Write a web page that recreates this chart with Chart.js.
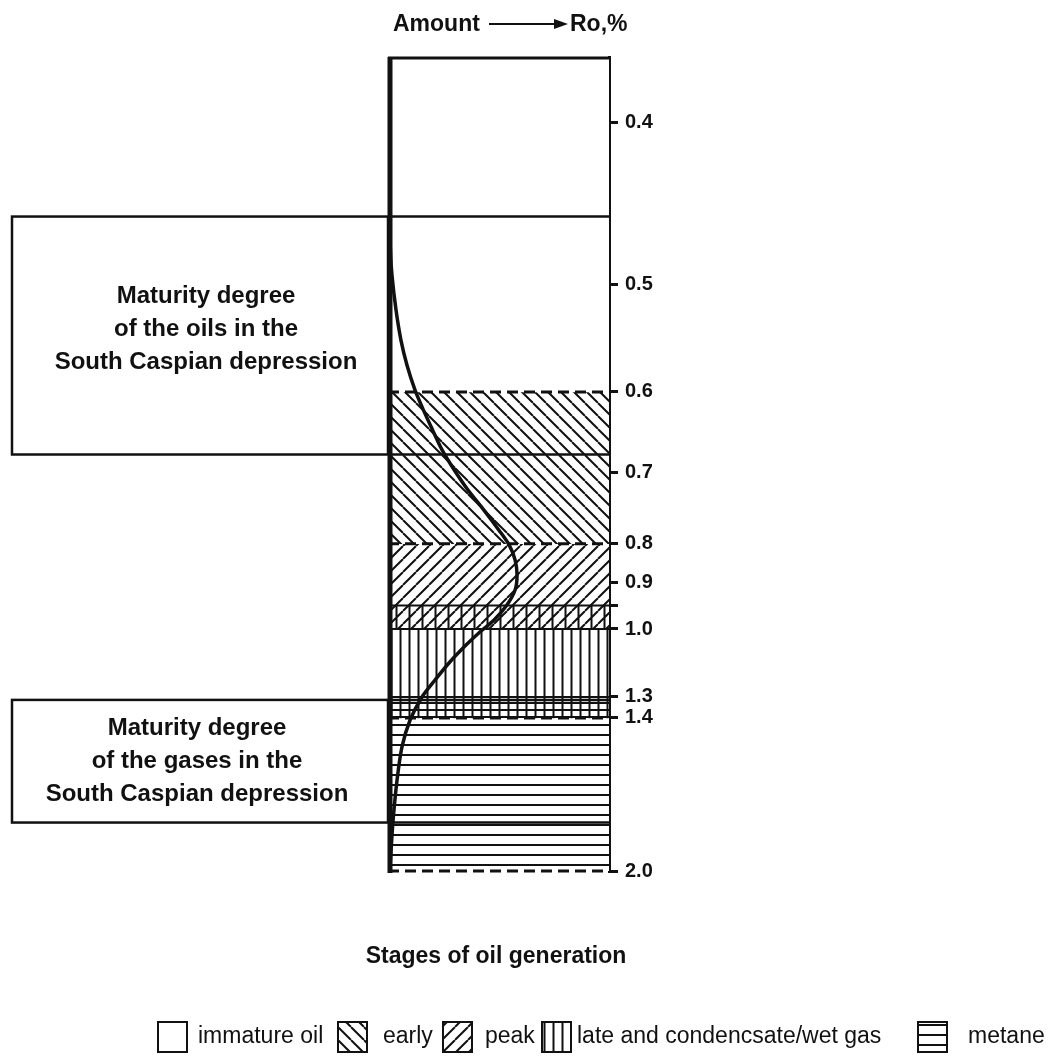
<!DOCTYPE html>
<html>
<head>
<meta charset="utf-8">
<script src="https://cdn.jsdelivr.net/npm/chart.js@4.4.1/dist/chart.umd.min.js"></script>
<style>
  body { margin: 0; background: #fff; }
  #wrap { width: 1054px; height: 1061px; position: relative; }
</style>
</head>
<body>
<div id="wrap"><canvas id="stages"></canvas></div>
<script>
var INK = "#111";
var FONT = "'Liberation Sans', Arial, sans-serif";

// Ro,% axis
let RO_TICKS = [0.4, 0.5, 0.6, 0.7, 0.8, 0.9, 0.95, 1.0, 1.3, 1.4, 2.0];
let RO_LABELS = ["0.4", "0.5", "0.6", "0.7", "0.8", "0.9", "", "1.0", "1.3", "1.4", "2.0"];
let RO_MIN = 0.36;
let RO_MAX = 2.0;

// stages of oil generation (Ro bands)
let STAGES = ["immature oil", "early", "peak", "late and condencsate/wet gas", "metane"];
let STAGE_KIND = ["immature", "early", "peak", "late", "metane"];
let BAND_KIND = ["immature", "early", "peak", "peak-late", "late", "late-metane", "metane"];
let BAND_FROM = [0.36, 0.6, 0.8, 0.95, 1.0, 1.3, 1.4];
let BAND_TO = [0.6, 0.8, 0.95, 1.0, 1.3, 1.4, 2.0];
let DASHED_RO = [0.6, 0.8, 1.4, 2.0];
let SOLID_RO = [0.95, 1.0, 1.3];

// amount curve (relative amount, 0-100 across the column)
let CURVE_RO = [0.456, 0.479, 0.494, 0.523, 0.552, 0.575, 0.598, 0.623, 0.647, 0.672, 0.697,
  0.725, 0.753, 0.781, 0.803, 0.842, 0.882, 0.917, 0.949, 0.981, 1.013, 1.071, 1.150, 1.225,
  1.3, 1.408, 1.514, 1.643, 1.80, 1.917, 1.988];
let CURVE_AMT = [0.7, 1.1, 1.8, 3.6, 5.9, 8.6, 12.2, 16.1, 20.1, 24.4, 29.9,
  36.2, 43.4, 50.2, 54.8, 57.5, 58.4, 57.5, 53.8, 48.0, 41.6, 35.3, 27.6, 21.3,
  15.4, 10.0, 6.3, 4.1, 2.3, 1.4, 0.9];

// maturity boxes
let BOX_FROM = [0.458, 1.314];
let BOX_TO = [0.678, 1.81];
let BOX_TEXT = [
  ["Maturity degree", "of the oils in the", "South Caspian depression"],
  ["Maturity degree", "of the gases in the", "South Caspian depression"]
];

// the Ro scale of the figure is not linear: piecewise between these breaks
var BREAK_RO = [0.36, 0.4, 0.5, 0.6, 0.7, 0.8, 0.9, 1.0, 1.3, 1.4, 2.0];
var BREAK_AT = [0, 0.080, 0.280, 0.4115, 0.510, 0.598, 0.645, 0.7027, 0.7862, 0.812, 1];

function interp(v, xs, ys) {
  if (v <= xs[0]) return ys[0];
  for (var i = 1; i < xs.length; i++) {
    if (v <= xs[i]) {
      var t = (v - xs[i - 1]) / (xs[i] - xs[i - 1]);
      return ys[i - 1] + t * (ys[i] - ys[i - 1]);
    }
  }
  return ys[ys.length - 1];
}

class RoScale extends Chart.LinearScale {
  getPixelForValue(value) {
    if (value === null || value === undefined || isNaN(value)) return NaN;
    return this.top + interp(value, BREAK_RO, BREAK_AT) * (this.bottom - this.top);
  }
  getValueForPixel(pixel) {
    return interp((pixel - this.top) / (this.bottom - this.top), BREAK_AT, BREAK_RO);
  }
}
RoScale.id = "roScale";
RoScale.defaults = Chart.LinearScale.defaults;
Chart.register(RoScale);

var canvas = document.getElementById("stages");
var ctx = canvas.getContext("2d");

function makePattern(kind) {
  if (kind === "immature") return "#fff";
  var s = (kind === "late" || kind === "late-metane") ? 9 : (kind === "metane" ? 10 : 13);
  var h = kind === "late-metane" ? 7 : s;
  var c = document.createElement("canvas");
  c.width = s; c.height = h;
  var g = c.getContext("2d");
  g.fillStyle = "#fff";
  g.fillRect(0, 0, s, h);
  g.strokeStyle = INK;
  g.lineWidth = 2;
  g.beginPath();
  if (kind === "early") {
    [-s, 0, s].forEach(function (o) { g.moveTo(o, 0); g.lineTo(o + s, s); });
  }
  if (kind === "peak" || kind === "peak-late") {
    [-s, 0, s].forEach(function (o) { g.moveTo(o, s); g.lineTo(o + s, 0); });
  }
  if (kind === "late" || kind === "peak-late" || kind === "late-metane") {
    g.moveTo(s / 2, 0); g.lineTo(s / 2, h);
  }
  if (kind === "metane") { g.moveTo(0, 5); g.lineTo(s, 5); }
  if (kind === "late-metane") { g.moveTo(0, 3); g.lineTo(s, 3); }
  g.stroke();
  return ctx.createPattern(c, "repeat");
}

var datasets = [{
  type: "line",
  label: "Amount",
  xAxisID: "xa",
  yAxisID: "y",
  data: CURVE_RO.map(function (r, i) { return { x: CURVE_AMT[i], y: r }; }),
  borderColor: INK,
  borderWidth: 3.5,
  pointRadius: 0,
  tension: 0.3,
  fill: false
}];
BAND_KIND.forEach(function (k, i) {
  datasets.push({
    type: "bar",
    label: k,
    xAxisID: "x",
    yAxisID: "y",
    data: [[BAND_FROM[i], BAND_TO[i]]],
    backgroundColor: makePattern(k),
    borderWidth: 0,
    grouped: false,
    barPercentage: 1,
    categoryPercentage: 1
  });
});

function hline(x1, x2, y) {
  ctx.beginPath(); ctx.moveTo(x1, y); ctx.lineTo(x2, y); ctx.stroke();
}

var decor = {
  id: "decor",
  beforeDatasetDraw: function (chart, args) {
    if (args.meta.type !== "line") return;
    var a = chart.chartArea, y = chart.scales.y;
    ctx.save();
    ctx.strokeStyle = INK;
    ctx.lineWidth = 3;
    ctx.setLineDash([11, 6]);
    DASHED_RO.forEach(function (r) { hline(a.left, a.right, y.getPixelForValue(r)); });
    ctx.setLineDash([]);
    ctx.lineWidth = 2;
    SOLID_RO.forEach(function (r) { hline(a.left, a.right, y.getPixelForValue(r)); });
    ctx.lineWidth = 2.5;
    BOX_FROM.forEach(function (r, i) {
      var t = y.getPixelForValue(r), b = y.getPixelForValue(BOX_TO[i]);
      ctx.strokeRect(12, t, a.left - 12, b - t);
      hline(a.left, a.right, t);
      hline(a.left, a.right, b);
    });
    ctx.restore();
  },
  afterDatasetsDraw: function (chart) {
    var a = chart.chartArea, y = chart.scales.y;
    ctx.save();
    ctx.strokeStyle = INK;
    ctx.fillStyle = INK;
    // column frame
    ctx.lineWidth = 5;
    ctx.beginPath(); ctx.moveTo(a.left + 2, a.bottom + 2); ctx.lineTo(a.left + 2, a.top); ctx.stroke();
    ctx.lineWidth = 3;
    hline(a.left, a.right, a.top + 1);

    // text in the maturity boxes
    ctx.font = "bold 24px " + FONT;
    ctx.textAlign = "center";
    ctx.textBaseline = "middle";
    BOX_TEXT.forEach(function (lines, i) {
      var mid = (y.getPixelForValue(BOX_FROM[i]) + y.getPixelForValue(BOX_TO[i])) / 2;
      var cx = i === 0 ? 206 : 197;
      lines.forEach(function (s, j) {
        ctx.fillText(s, cx, mid + (j - 1) * 33 - (i === 0 ? 6 : 0));
      });
    });

    // header: Amount ---> Ro,%
    ctx.font = "bold 23px " + FONT;
    ctx.textAlign = "left";
    ctx.fillText("Amount", 393, 25);
    ctx.fillText("Ro,%", 570, 25);
    ctx.lineWidth = 2;
    hline(489, 556, 24);
    ctx.beginPath(); ctx.moveTo(568, 24); ctx.lineTo(554, 19); ctx.lineTo(554, 29); ctx.closePath(); ctx.fill();

    // caption
    ctx.font = "bold 23px " + FONT;
    ctx.textAlign = "center";
    ctx.fillText("Stages of oil generation", 496, 957);

    // legend
    var boxX = [158, 338, 443, 542, 918];
    var textX = [198, 383, 485, 577, 968];
    ctx.font = "23px " + FONT;
    ctx.textAlign = "left";
    STAGES.forEach(function (name, i) {
      ctx.fillStyle = makePattern(STAGE_KIND[i]);
      ctx.fillRect(boxX[i], 1022, 29, 30);
      ctx.lineWidth = 2;
      ctx.strokeRect(boxX[i], 1022, 29, 30);
      ctx.fillStyle = INK;
      ctx.fillText(name, textX[i], 1037);
    });
    ctx.restore();
  }
};

var chart = new Chart(canvas, {
  type: "bar",
  data: {
    labels: ["stages"],
    datasets: datasets
  },
  options: {
    responsive: true,
    maintainAspectRatio: false,
    animation: false,
    layout: { padding: { left: 388, top: 57, bottom: 190, right: 0 } },
    plugins: { legend: { display: false }, tooltip: { enabled: false } },
    scales: {
      x: { display: false },
      xa: { type: "linear", display: false, offset: false, min: 0, max: 100 },
      y: {
        type: "roScale",
        position: "right",
        min: RO_MIN,
        max: RO_MAX,
        afterBuildTicks: function (s) { s.ticks = RO_TICKS.map(function (v) { return { value: v }; }); },
        afterFit: function (s) { s.width = 445; },
        ticks: {
          autoSkip: false,
          padding: 7,
          color: INK,
          font: { family: FONT, size: 20, weight: "bold" },
          callback: function (v) { return RO_LABELS[RO_TICKS.indexOf(v)]; }
        },
        grid: { drawOnChartArea: false, tickLength: 9, color: INK, lineWidth: 3 },
        border: { display: true, color: INK, width: 3 }
      }
    }
  },
  plugins: [decor]
});
</script>
</body>
</html>
